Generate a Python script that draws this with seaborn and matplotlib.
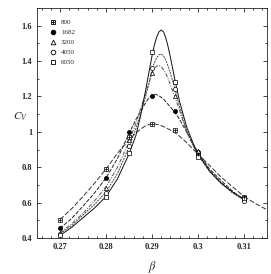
import matplotlib
matplotlib.use("Agg")
import matplotlib.pyplot as plt
import seaborn as sns
import pandas as pd
from matplotlib.ticker import MultipleLocator, FuncFormatter

sizes = ["800", "1682", "3200", "4050", "6050"]

# measured points
beta_pts = [0.27, 0.28, 0.285, 0.29, 0.295, 0.30, 0.31]
pts_800 = [0.505, 0.79, 0.97, 1.045, 1.01, 0.875, 0.635]
pts_1682 = [0.455, 0.74, 1.00, 1.20, 1.12, 0.885, 0.615]
pts_3200 = [0.43, 0.685, 0.955, 1.33, 1.20, 0.89, 0.62]
pts_4050 = [0.425, 0.655, 0.92, 1.36, 1.24, 0.87, 0.61]
pts_6050 = [0.415, 0.635, 0.88, 1.45, 1.28, 0.86, 0.625]

# fitted curves
beta_curve = [0.27, 0.2725, 0.275, 0.2775, 0.28, 0.2825, 0.285, 0.2865, 0.2875,
              0.2885, 0.289, 0.2895, 0.29, 0.2905, 0.291, 0.2915, 0.292, 0.2925,
              0.293, 0.2935, 0.294, 0.295, 0.296, 0.2975, 0.299, 0.30, 0.3025,
              0.305, 0.3075, 0.31]
curve_800 = [0.505, 0.565, 0.635, 0.71, 0.79, 0.88, 0.955, 0.995, 1.015,
             1.033, 1.038, 1.043, 1.045, 1.045, 1.043, 1.04, 1.035, 1.03,
             1.024, 1.017, 1.01, 0.995, 0.975, 0.94, 0.90, 0.875, 0.81,
             0.745, 0.69, 0.635]
curve_1682 = [0.455, 0.51, 0.58, 0.655, 0.74, 0.85, 0.99, 1.07, 1.115,
              1.16, 1.18, 1.195, 1.207, 1.212, 1.21, 1.204, 1.195, 1.185,
              1.17, 1.155, 1.14, 1.11, 1.07, 1.0, 0.93, 0.885, 0.79,
              0.725, 0.665, 0.615]
curve_3200 = [0.43, 0.48, 0.54, 0.61, 0.69, 0.80, 0.945, 1.05, 1.13,
              1.21, 1.25, 1.29, 1.33, 1.36, 1.372, 1.375, 1.368, 1.35,
              1.33, 1.30, 1.265, 1.195, 1.12, 1.0, 0.92, 0.875, 0.78,
              0.715, 0.66, 0.62]
curve_4050 = [0.425, 0.47, 0.53, 0.59, 0.66, 0.765, 0.915, 1.02, 1.10,
              1.19, 1.24, 1.29, 1.355, 1.39, 1.418, 1.435, 1.44, 1.43,
              1.405, 1.37, 1.33, 1.24, 1.14, 1.01, 0.92, 0.87, 0.775,
              0.71, 0.655, 0.615]
curve_6050 = [0.415, 0.46, 0.515, 0.57, 0.635, 0.735, 0.875, 0.98, 1.09,
              1.22, 1.29, 1.36, 1.43, 1.49, 1.535, 1.565, 1.575, 1.565,
              1.53, 1.48, 1.42, 1.29, 1.17, 1.03, 0.93, 0.875, 0.78,
              0.71, 0.66, 0.62]
ext_beta_800 = [0.31, 0.3125, 0.315]
ext_800 = [0.635, 0.595, 0.56]

pts = [pts_800, pts_1682, pts_3200, pts_4050, pts_6050]
curves = [curve_800, curve_1682, curve_3200, curve_4050, curve_6050]

sns.set_style("ticks")
plt.rcParams["font.family"] = ["Liberation Serif", "DejaVu Serif"]
plt.rcParams["mathtext.fontset"] = "stix"

fig = plt.figure(figsize=(2.71, 2.74), dpi=100)
ax = fig.add_axes([0.1365, 0.131, 0.849, 0.84])

linestyles = [(0, (5, 2)), (0, (4, 1.5)), (0, (4, 1.5, 1, 1.5)), (0, (2, 1)), "-"]
lcolors = ["#333333", "#222222", "#555555", "#444444", "#111111"]
for i, name in enumerate(sizes):
    dfc = pd.DataFrame({"beta": beta_curve, "C": curves[i]})
    sns.lineplot(data=dfc, x="beta", y="C", ax=ax, color=lcolors[i],
                 lw=0.7, linestyle=linestyles[i], sort=False)
dfe = pd.DataFrame({"beta": ext_beta_800, "C": ext_800})
sns.lineplot(data=dfe, x="beta", y="C", ax=ax, color="#333333", lw=0.7,
             linestyle=linestyles[0], sort=False)

markers = ["s", "o", "^", "o", "s"]
faces = ["white", "black", "white", "white", "white"]
handles = []
for i, name in enumerate(sizes):
    dfp = pd.DataFrame({"beta": beta_pts, "C": pts[i]})
    sns.scatterplot(data=dfp, x="beta", y="C", ax=ax, marker=markers[i],
                    s=9, facecolor=faces[i], edgecolor="black",
                    linewidth=0.5, zorder=5)
    if i == 0:
        sns.scatterplot(data=dfp, x="beta", y="C", ax=ax, marker="+",
                        s=9, color="black", linewidth=0.5, zorder=6)
    h = ax.scatter([], [], marker=markers[i], s=11, facecolor=faces[i],
                   edgecolor="black", linewidth=0.6)
    if i == 0:
        hp = ax.scatter([], [], marker="+", s=11, color="black", linewidth=0.6)
        h = (h, hp)
    handles.append(h)

ax.set_xlim(0.265, 0.315)
ax.set_ylim(0.4, 1.7)
ax.xaxis.set_major_locator(MultipleLocator(0.01))
ax.xaxis.set_minor_locator(MultipleLocator(0.002))
ax.yaxis.set_major_locator(MultipleLocator(0.2))
ax.yaxis.set_minor_locator(MultipleLocator(0.1))
ax.xaxis.set_major_formatter(FuncFormatter(lambda v, p: "%g" % round(v, 3)))
ax.yaxis.set_major_formatter(FuncFormatter(lambda v, p: "%g" % round(v, 2)))
ax.tick_params(which="both", direction="in", top=True, right=True,
               labelsize=6, width=0.6)
ax.tick_params(which="major", length=3)
ax.tick_params(which="minor", length=1.5)
for lab in ax.get_xticklabels() + ax.get_yticklabels():
    lab.set_fontweight("bold")
for sp in ax.spines.values():
    sp.set_linewidth(0.6)

ax.set_xlabel(r"$\beta$", fontsize=9, labelpad=6)
ax.set_ylabel(r"$C_V$", fontsize=8, rotation=0, labelpad=1)

leg = ax.legend(handles, sizes, loc="upper left", frameon=False, fontsize=5,
                handletextpad=0.5, labelspacing=0.6, borderaxespad=0.7,
                handlelength=1.2, bbox_to_anchor=(0.02, 0.985))

fig.savefig("out.png", dpi=100)
